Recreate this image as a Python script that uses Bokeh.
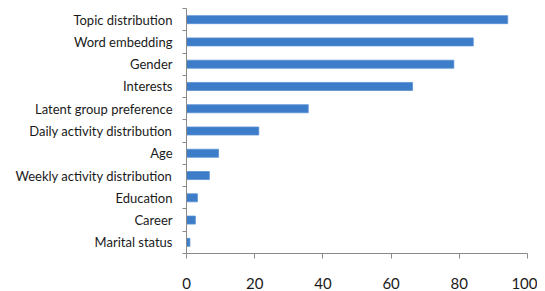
from bokeh.plotting import figure
from bokeh.models import FixedTicker, ColumnDataSource, Range1d
from bokeh.embed import file_html
from bokeh.resources import INLINE

categories = ["Topic distribution", "Word embedding", "Gender", "Interests",
              "Latent group preference", "Daily activity distribution", "Age",
              "Weekly activity distribution", "Education", "Career", "Marital status"]
values = [94.2, 84.1, 78.4, 66.3, 35.7, 21.2, 9.4, 6.7, 3.2, 2.6, 1.0]
x_ticks = [0, 20, 40, 60, 80, 100]

n = len(categories)
ypos = [n - i - 0.5 for i in range(n)]
src = ColumnDataSource(dict(y=ypos, v=values, cat=categories))

p = figure(width=537, height=291, output_backend="svg", toolbar_location=None,
           x_range=Range1d(0, 100), y_range=Range1d(0, n),
           min_border_left=186, min_border_right=10, min_border_top=8, min_border_bottom=37)
p.hbar(y="y", right="v", left=0, height=0.36, source=src,
       fill_color="#3c7cc8", line_color="#5a92d4", line_width=0.8)

p.grid.visible = False
p.outline_line_color = None
p.background_fill_color = "white"

ax = p.yaxis[0]
ax.ticker = FixedTicker(ticks=ypos, minor_ticks=list(range(n + 1)))
ax.major_label_overrides = {y: c for y, c in zip(ypos, categories)}
ax.major_tick_line_color = None
ax.minor_tick_in = 0
ax.minor_tick_out = 4
ax.minor_tick_line_color = "#8a8a8a"
ax.axis_line_color = "#8a8a8a"
ax.major_label_text_font = "Lato"
ax.major_label_text_font_size = "13px"
ax.major_label_text_color = "#1a1a1a"
ax.major_label_standoff = 8

xa = p.xaxis[0]
xa.ticker = FixedTicker(ticks=x_ticks, minor_ticks=[])
xa.major_tick_in = 0
xa.major_tick_out = 5
xa.major_tick_line_color = "#8a8a8a"
xa.axis_line_color = "#8a8a8a"
xa.major_label_text_font = "Lato"
xa.major_label_text_font_size = "15px"
xa.major_label_text_color = "#1a1a1a"
xa.major_label_standoff = 19

open("out.html", "w").write(file_html(p, INLINE))
